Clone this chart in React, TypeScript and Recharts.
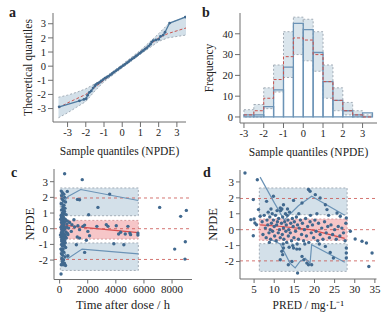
import React from "react";
import {
  ComposedChart, XAxis, YAxis, Scatter, Line, Area,
  ReferenceArea, ReferenceLine, Label,
} from "recharts";

const FONT = "Liberation Serif, Times New Roman, serif";
const POINT = "#41698f";
const BLUE_LINE = "#6b93b6";
const BLUE_FILL = "#d3e0e9";
const RED_FILL = "#f6c6c8";
const RED = "#c9534f";
const FRAME = "#6e6e6e";
const PI_EDGE = "#a2acb6";
const TEXT = "#222";

// ---- panel a: QQ plot ----
const qqObs: [number, number][] = [
  [-3.46, -2.88], [-2.35, -2.45], [-2.1, -2.35], [-1.98, -2.3], [-1.9, -2.05], [-1.8, -1.85],
  [-1.7, -1.75], [-1.6, -1.55], [-1.5, -1.4], [-1.45, -1.3], [-1.35, -1.22], [-1.25, -1.15],
  [-1.15, -1.05], [-1.05, -0.95], [-0.95, -0.85], [-0.85, -0.78], [-0.75, -0.7], [-0.65, -0.62],
  [-0.55, -0.52], [-0.45, -0.42], [-0.35, -0.33], [-0.25, -0.24], [-0.15, -0.14], [-0.05, -0.05],
  [0.05, 0.04], [0.15, 0.13], [0.25, 0.23], [0.35, 0.32], [0.45, 0.42], [0.55, 0.52],
  [0.65, 0.6], [0.75, 0.7], [0.85, 0.8], [0.95, 0.9], [1.05, 1.0], [1.15, 1.1], [1.25, 1.2],
  [1.35, 1.3], [1.45, 1.42], [1.55, 1.55], [1.62, 1.7], [1.7, 1.8], [1.85, 1.85], [2.0, 1.9],
  [2.1, 2.1], [2.25, 2.2], [2.35, 2.4], [2.6, 3.05], [3.46, 3.47],
];
const qqBandX = [-3.5, -3.0, -2.5, -2.0, -1.5, -1.0, 0, 1.0, 1.5, 2.0, 2.5, 3.0, 3.5];
const qqBandLo = [-3.65, -3.3, -2.9, -2.5, -1.75, -1.1, -0.12, 0.85, 1.3, 1.75, 2.0, 2.1, 2.2];
const qqBandMed = [-2.95, -2.6, -2.3, -2.0, -1.5, -1.0, 0, 1.0, 1.5, 2.0, 2.3, 2.5, 2.7];
const qqBandHi = [-2.2, -2.05, -1.85, -1.6, -1.25, -0.85, 0.12, 1.12, 1.7, 2.3, 2.95, 3.25, 3.5];

// ---- panel b: histogram ----
const binStart = [-3, -2.5, -2, -1.5, -1, -0.5, 0, 0.5, 1, 1.5, 2, 2.5, 3];
const binCount = [1, 1, 5, 13, 24, 45, 42, 31, 17, 8, 3, 1, 2];
const binLo = [0, 0, 4, 12, 19, 30, 27, 22, 9, 3, 1, 0, 0];
const binMed = [1, 3, 9, 18, 29, 38, 37, 30, 17, 8, 3, 1, 0];
const binHi = [3.5, 6, 14, 25, 41, 48, 47, 41, 25, 14, 7, 3, 1];

// ---- panel c: NPDE vs time ----
const timeObs: [number, number][] = [
  [356, 3.51], [1610, 3.13], [3560, 2.21], [2727, 1.36], [2065, 0.89], [7120, 1.36], [9016, 1.17],
  [8615, 0.79], [8188, -1.3], [8945, -0.83], [8920, -1.94], [544, 2.38], [1270, 1.87], [1420, 1.85],
  [100, -2.89], [1780, -1.51], [1190, -1.02], [2130, -0.45], [1900, -0.74], [3860, -0.96],
  [4570, -1.02], [590, -1.72], [2650, 0.15], [3320, 0.26], [3440, 0.15], [4030, 0.19], [4860, 0.15],
  [4200, -0.34], [4340, -0.23], [4670, -0.34], [5000, -0.28], [5050, -0.38], [5570, -0.28],
  [5570, -0.4], [1660, 0.15], [1780, 0.23], [2010, -0.17], [875, 0.26], [1065, 0.11], [1300, 0.19],
  [1420, -0.06], [830, -0.17], [1255, -0.53], [1420, -0.6], [640, 0.04], [710, 0.4], [590, -0.38],
  [1020, 0.57],
  [120, 2.4], [200, 2.3], [300, 2.2], [350, 2.0], [180, 1.9], [260, 1.8], [420, 1.7], [150, 1.6],
  [310, 1.5], [230, 1.4], [380, 1.3], [140, 1.2], [270, 1.15], [200, 1.0], [330, 0.95], [460, 0.9],
  [110, 0.85], [250, 0.8], [190, 0.7], [300, 0.65], [400, 0.6], [160, 0.55], [220, 0.5], [350, 0.45],
  [130, 0.4], [280, 0.35], [520, 0.3], [210, 0.25], [170, 0.2], [320, 0.15], [100, 0.1], [240, 0.05],
  [380, 0.0], [150, -0.05], [290, -0.1], [200, -0.15], [450, -0.2], [130, -0.25], [260, -0.3],
  [340, -0.35], [180, -0.4], [230, -0.45], [410, -0.5], [120, -0.55], [300, -0.6], [210, -0.7],
  [360, -0.75], [160, -0.8], [270, -0.9], [140, -1.0], [320, -1.05], [200, -1.1], [430, -1.2],
  [250, -1.3], [170, -1.4], [300, -1.5], [130, -1.6], [220, -1.7], [380, -1.8], [160, -1.9],
  [280, -2.0], [200, -2.1], [340, -2.2], [120, -2.3], [250, -2.3], [420, -2.35], [180, -2.25],
  [150, -0.7], [190, 0.9], [110, 1.6], [260, -1.1], [350, 1.1], [220, -2.0], [140, 2.1], [300, 0.3],
  [170, -0.2], [400, -0.9], [130, 0.75], [240, 1.25], [90, -1.3], [80, 0.6], [60, -0.4], [500, 0.1],
  [480, -0.6], [550, 0.5], [560, -0.3],
];
const timeUpper = [[80, 1.5], [600, 2.05], [1500, 2.5], [5600, 1.8]];
const timeMedian = [[80, 0.3], [600, 0.2], [1500, 0.1], [5600, -0.25]];
const timeLower = [[110, -1.2], [600, -1.9], [1600, -1.3], [5600, -1.6]];
const timeBoxX = [50, 5600];
const timeBands = [[0.83, 2.6], [-0.66, 0.53], [-2.66, -0.91]];

// ---- panel d: NPDE vs PRED ----
const predObs: [number, number][] = [
  [2.74, 3.56], [5.8, 3.14], [4.8, 1.89], [5.0, 0.67], [4.2, 0.63], [5.2, 0.42], [5.6, 0.31],
  [4.8, -0.38], [6.1, 1.26], [6.5, 0.84], [8.1, 1.78], [9.8, 2.1], [11.5, 1.36], [12.3, 1.57],
  [14.8, 1.84], [16.9, 1.68], [18.5, 2.52], [18.9, 2.41], [20.2, 2.2], [21.4, 1.99], [22.7, 1.57],
  [23.1, 1.26], [25.6, 1.05], [26.4, 0.84], [27.9, 0.73], [28.9, -0.1], [30.1, -0.59], [31.8, -0.73],
  [32.9, -0.84], [34.3, -1.47], [33.5, -2.31], [15.8, -2.73], [13.5, -2.2], [14.4, -2.0],
  [16.9, -1.68], [17.4, -1.89], [18.1, -2.1], [18.5, -2.2], [19.3, -2.2], [14.8, -1.15],
  [15.6, -1.22], [16.3, -1.22], [22.7, -1.05], [23.9, -1.43], [24.7, -1.78], [27.9, -1.47],
  [27.9, -1.78], [27.9, -1.15], [11.9, -1.36], [12.1, -1.57], [12.3, -1.15], [11.5, -1.89],
  [7.0, 0.5], [7.2, -0.3], [7.5, 0.9], [7.8, 0.1], [8.0, -0.5], [8.2, 0.6], [8.4, 0.3], [8.5, 1.1],
  [8.7, -0.2], [8.9, 0.8], [9.0, 0.0], [9.1, -0.6], [9.3, 0.4], [9.5, 1.0], [9.6, -0.1], [9.8, 0.6],
  [10.0, 0.2], [10.1, -0.4], [10.3, 0.9], [10.5, -0.7], [10.6, 0.3], [10.8, 0.5], [11.0, -0.2],
  [11.1, 0.7], [11.3, 0.0], [11.5, -0.5], [11.6, 1.2], [11.8, 0.4], [12.0, -0.3], [12.1, 0.8],
  [12.3, 0.1], [12.4, -0.6], [12.6, 0.5], [12.8, 1.0], [12.9, -0.1], [13.0, 0.3], [13.1, -0.8],
  [13.2, 0.9], [13.4, 0.6], [13.5, -0.4], [13.6, 0.0], [13.8, 1.1], [14.0, -0.2], [14.1, 0.4],
  [14.3, -0.7], [14.5, 0.7], [14.7, 0.2], [14.9, -0.5], [15.0, 0.5], [15.3, -0.1], [15.5, 0.8],
  [15.8, 0.3], [16.0, -0.6], [16.2, 0.1], [16.5, 0.6], [16.8, -0.3], [17.0, 0.4], [17.3, -0.7],
  [17.5, 0.0], [17.8, 0.7], [18.0, -0.4], [18.3, 0.2], [18.6, -0.8], [18.9, 0.5], [19.2, -0.2],
  [19.5, 0.3], [19.8, -0.5], [20.1, 0.6], [20.4, -0.1], [20.8, -0.7], [21.0, 0.4], [21.4, -0.3],
  [21.8, 0.1], [22.1, -0.6], [22.5, 0.5], [22.9, -0.2], [23.3, 0.2], [23.7, -0.5], [24.1, 0.3],
  [24.5, -0.3], [25.0, 0.0], [25.4, -0.6], [25.9, 0.2], [26.3, -0.4], [26.8, 0.1], [27.2, -0.2],
  [27.6, -0.7], [27.8, 0.4], [9.2, 1.3], [10.7, 1.2], [12.2, -0.9], [13.3, 1.3], [14.6, -1.0],
  [16.1, 1.0], [17.6, -0.9], [19.0, 0.9], [20.6, 1.0], [8.8, -0.8], [11.9, 1.3], [13.7, -1.1],
  [15.7, -0.9], [21.2, -0.9], [23.5, 0.9],
];
const predUpper = [[6.5, 3.3], [10, 1.7], [12.5, 0.6], [14, 1.0], [16, 1.5], [19.3, 2.1], [27.5, 0.9]];
const predMedian = [[6.5, 0.3], [12, 0.2], [19, 0.0], [27.5, -0.55]];
const predLower = [[9, -0.6], [11.5, -0.9], [13.9, -2.1], [15.2, -2.4], [16.4, -2.0], [17.7, -1.8],
  [18.9, -2.1], [19.3, -0.95], [27.5, -2.05]];
const predBoxX = [6.3, 28.1];
const predBands = [[0.94, 2.62], [-0.67, 0.67], [-2.62, -0.88]];

const refLevels = [-1.96, 0, 1.96];

const toXY = (arr: number[][]) => arr.map(([x, y]) => ({ x, y }));

const tickStyle = (size: number) => ({ fontSize: size, fill: TEXT, fontFamily: FONT });
const titleStyle = (size: number) => ({ fontSize: size, fill: TEXT, fontFamily: FONT });

const SmallDot = (r: number) => (p: any) =>
  <circle cx={p.cx} cy={p.cy} r={r} fill={POINT} />;

function frameAxes() {
  return [
    <XAxis key="ft" xAxisId="top" orientation="top" type="number" domain={[0, 1]}
      height={0} tick={false} tickLine={false} axisLine={{ stroke: FRAME }} />,
    <YAxis key="fr" yAxisId="right" orientation="right" type="number" domain={[0, 1]}
      width={0} tick={false} tickLine={false} axisLine={{ stroke: FRAME }} />,
  ];
}

function PanelA() {
  const data = qqBandX.map((x, i) => ({
    x, band: [qqBandLo[i], qqBandHi[i]], lo: qqBandLo[i], hi: qqBandHi[i], med: qqBandMed[i],
  }));
  return (
    <ComposedChart width={194} height={158} data={data} margin={{ top: 13, right: 8, bottom: 0, left: 0 }}>
      <XAxis dataKey="x" type="number" domain={[-3.8, 3.5]} allowDataOverflow ticks={[-3, -2, -1, 0, 1, 2, 3]} interval={0}
        height={36} tickSize={5} tickMargin={2} tick={tickStyle(10.5)} tickLine={{ stroke: FRAME }} axisLine={{ stroke: FRAME }}>
        <Label value="Sample quantiles (NPDE)" position="center" dy={11} style={titleStyle(11.5)} />
      </XAxis>
      <YAxis type="number" domain={[-3.95, 3.76]} allowDataOverflow ticks={[-3, -2, -1, 0, 1, 2, 3]} interval={0}
        width={53} tickSize={5} tickMargin={2} tick={tickStyle(10.5)} tickLine={{ stroke: FRAME }} axisLine={{ stroke: FRAME }}>
        <Label value="Theoretical quantiles" angle={-90} position="center" dx={1} style={titleStyle(11.5)} />
      </YAxis>
      {frameAxes()}
      <Area type="linear" dataKey="band" fill={BLUE_FILL} fillOpacity={1} stroke="none" isAnimationActive={false} />
      <Line type="linear" dataKey="lo" stroke={PI_EDGE} strokeDasharray="2 2" dot={false} isAnimationActive={false} />
      <Line type="linear" dataKey="hi" stroke={PI_EDGE} strokeDasharray="2 2" dot={false} isAnimationActive={false} />
      <Line type="linear" dataKey="med" stroke={RED} strokeDasharray="3 2" dot={false} isAnimationActive={false} />
      <Scatter data={toXY(qqObs)} dataKey="y" line={{ stroke: "#4e7aa0", strokeWidth: 1.3 }}
        shape={SmallDot(1.4)} isAnimationActive={false} />
    </ComposedChart>
  );
}

function PanelB() {
  // step line of the simulated median, closed at the right edge of the last bin
  const medStep = [
    ...binStart.map((x, i) => ({ x, med: binMed[i] })),
    { x: binStart[binStart.length - 1] + 0.5, med: binMed[binMed.length - 1] },
  ];
  return (
    <ComposedChart width={194} height={158} data={medStep} margin={{ top: 13, right: 11, bottom: 0, left: 0 }}>
      <XAxis dataKey="x" type="number" domain={[-3.2, 3.73]} allowDataOverflow ticks={[-3, -2, -1, 0, 1, 2, 3]} interval={0}
        height={35} tickSize={5} tickMargin={2} tick={tickStyle(10.5)} tickLine={{ stroke: FRAME }} axisLine={{ stroke: FRAME }}>
        <Label value="Sample quantiles (NPDE)" position="center" dy={11} style={titleStyle(11.5)} />
      </XAxis>
      <YAxis type="number" domain={[-2.9, 50]} allowDataOverflow ticks={[0, 10, 20, 30, 40]} interval={0}
        width={46} tickSize={5} tickMargin={2} tick={tickStyle(10.5)} tickLine={{ stroke: FRAME }} axisLine={{ stroke: FRAME }}>
        <Label value="Frequency" angle={-90} position="center" dx={-8} style={titleStyle(11.5)} />
      </YAxis>
      {frameAxes()}
      {binStart.map((x, i) => (
        <ReferenceArea key={"w" + i} x1={x} x2={x + 0.5} y1={0} y2={binCount[i]}
          fill="#fff" fillOpacity={1} stroke="none" />
      ))}
      {binStart.map((x, i) => (
        <ReferenceArea key={"p" + i} x1={x} x2={x + 0.5} y1={binLo[i]} y2={binHi[i]}
          fill={BLUE_FILL} fillOpacity={0.85} stroke={PI_EDGE} strokeDasharray="2 2" />
      ))}
      <Line type="stepAfter" dataKey="med" stroke={RED} strokeDasharray="3 2" dot={false} isAnimationActive={false} />
      {binStart.map((x, i) => (
        <ReferenceArea key={"o" + i} x1={x} x2={x + 0.5} y1={0} y2={binCount[i]}
          fill="none" stroke={BLUE_LINE} strokeWidth={1.3} />
      ))}
    </ComposedChart>
  );
}

function NpdePanel(props: {
  obs: [number, number][]; upper: number[][]; median: number[][]; lower: number[][];
  boxX: number[]; bands: number[][]; xDomain: number[]; xTicks: number[]; yDomain: number[];
  margin: any; yWidth: number; xHeight: number; xTitle: string; xTitleSize: number; xDy: number; yDx: number;
}) {
  const p = props;
  return (
    <ComposedChart width={194} height={159} margin={p.margin}>
      <XAxis dataKey="x" type="number" domain={p.xDomain} allowDataOverflow ticks={p.xTicks} interval={0}
        height={p.xHeight} tickSize={4} tickMargin={2} tick={tickStyle(11)} tickLine={{ stroke: FRAME }} axisLine={{ stroke: FRAME }}>
        <Label value={p.xTitle} position="center" dy={p.xDy} style={titleStyle(p.xTitleSize)} />
      </XAxis>
      <YAxis type="number" domain={p.yDomain} allowDataOverflow ticks={[-2, -1, 0, 1, 2, 3]} interval={0}
        width={p.yWidth} tickSize={4} tickMargin={2} tick={tickStyle(11)} tickLine={{ stroke: FRAME }} axisLine={{ stroke: FRAME }}>
        <Label value="NPDE" angle={-90} position="center" dx={p.yDx} style={titleStyle(12.5)} />
      </YAxis>
      {frameAxes()}
      {refLevels.map((y) => (
        <ReferenceLine key={"r" + y} y={y} stroke={RED} strokeDasharray="3 3" strokeOpacity={0.8} />
      ))}
      {p.bands.map(([lo, hi], i) => (
        <ReferenceArea key={"b" + i} x1={p.boxX[0]} x2={p.boxX[1]} y1={lo} y2={hi}
          fill={i === 1 ? RED_FILL : BLUE_FILL} fillOpacity={1}
          stroke={i === 1 ? "#d59a9c" : PI_EDGE} strokeDasharray="2 2" />
      ))}
      <Line data={toXY(p.upper)} dataKey="y" type="linear" stroke={BLUE_LINE} strokeWidth={1.2} dot={false} isAnimationActive={false} />
      <Line data={toXY(p.lower)} dataKey="y" type="linear" stroke={BLUE_LINE} strokeWidth={1.2} dot={false} isAnimationActive={false} />
      <Line data={toXY(p.median)} dataKey="y" type="linear" stroke="#d64f4f" strokeWidth={1.2} dot={false} isAnimationActive={false} />
      <Scatter data={toXY(p.obs)} dataKey="y" shape={SmallDot(1.7)} isAnimationActive={false} />
    </ComposedChart>
  );
}

const letter = (ch: string, left: number, top: number) => (
  <div style={{ position: "absolute", left, top, fontFamily: FONT, fontSize: 14, fontWeight: "bold", color: TEXT, lineHeight: "14px" }}>
    {ch}
  </div>
);

export default function App() {
  return (
    <div style={{ position: "absolute", left: 0, top: 0, width: 388, height: 317, background: "#fff", overflow: "hidden", fontFamily: FONT }}>
      <div style={{ position: "absolute", left: 0, top: 0 }}><PanelA /></div>
      <div style={{ position: "absolute", left: 194, top: 0 }}><PanelB /></div>
      <div style={{ position: "absolute", left: 0, top: 158 }}>
        <NpdePanel obs={timeObs} upper={timeUpper} median={timeMedian} lower={timeLower}
          boxX={timeBoxX} bands={timeBands} xDomain={[-400, 9420]} xTicks={[0, 2000, 4000, 6000, 8000]}
          yDomain={[-3.24, 3.81]} margin={{ top: 11, right: 2, bottom: 0, left: 0 }}
          yWidth={54} xHeight={37.5} xTitle="Time after dose / h" xTitleSize={12.5} xDy={6} yDx={3} />
      </div>
      <div style={{ position: "absolute", left: 194, top: 158 }}>
        <NpdePanel obs={predObs} upper={predUpper} median={predMedian} lower={predLower}
          boxX={predBoxX} bands={predBands} xDomain={[1.5, 35.4]} xTicks={[5, 10, 15, 20, 25, 30, 35]}
          yDomain={[-3.1, 3.75]} margin={{ top: 12, right: 11.5, bottom: 0, left: 0 }}
          yWidth={46} xHeight={38} xTitle="PRED / mg·L⁻¹" xTitleSize={11.5} xDy={7} yDx={-4} />
      </div>
      {letter("a", 9, 6)}
      {letter("b", 202, 6)}
      {letter("c", 11, 166)}
      {letter("d", 203, 166)}
    </div>
  );
}
